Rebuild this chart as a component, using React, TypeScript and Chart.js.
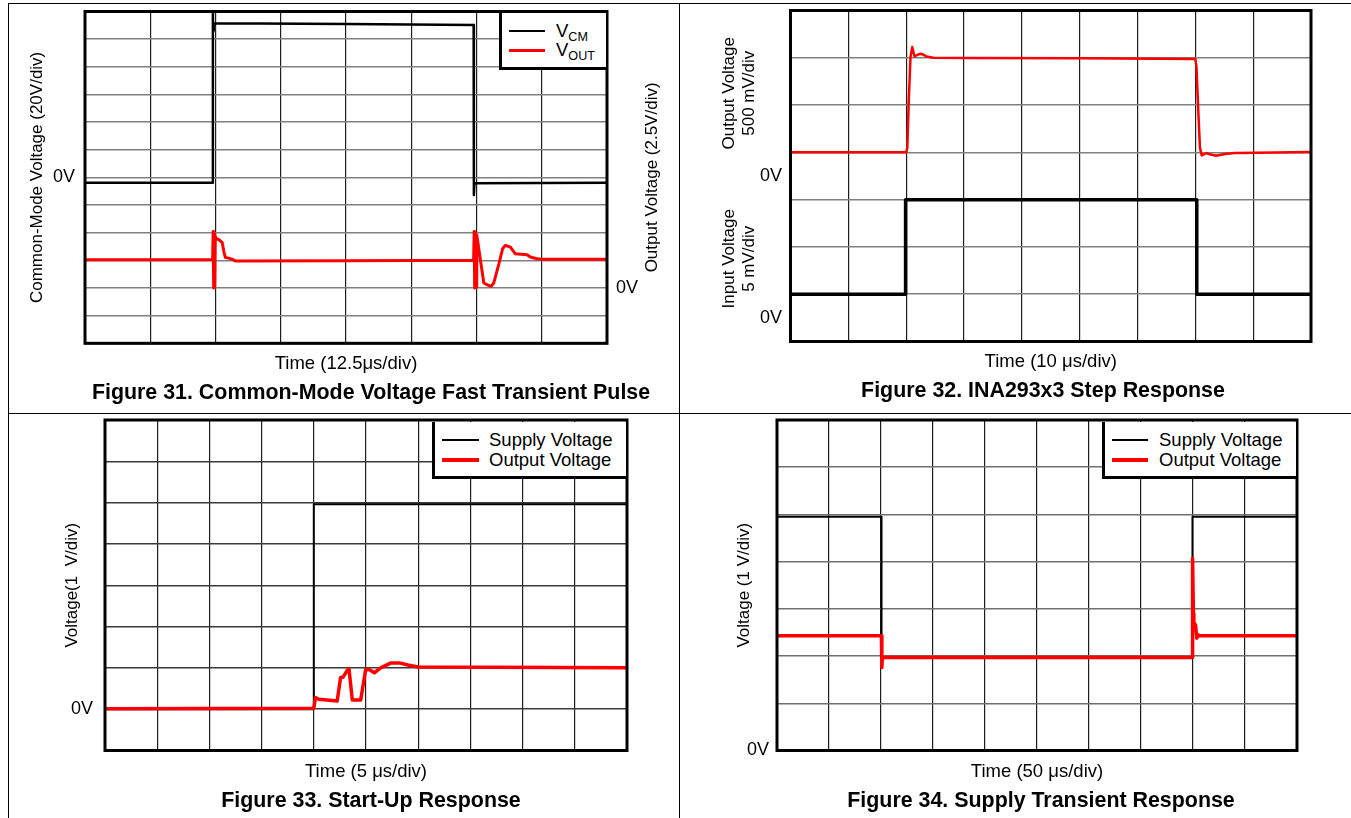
import React, { useEffect, useRef } from 'react';
import { Chart, registerables } from 'chart.js';

Chart.register(...registerables);

const FONT = "'Liberation Sans', Arial, Helvetica, sans-serif";
const RED = '#ff0000';
const HIDDEN = 'rgba(0,0,0,0)';

// ---------------- Figure 31 : Common-mode fast transient ----------------
const fig31VcmTime = [0, 24.45, 24.5, 24.55, 24.65, 50, 74.45, 74.5, 74.6, 74.7, 100];
const fig31VcmVolts = [-3.9, -3.9, 120, 106, 111.5, 111.0, 110.3, -12.8, -4.6, -4.3, -3.9];
const fig31OutTime = [
  0, 24.45, 24.55, 24.65, 24.75, 24.85, 24.95, 25.06, 25.6, 26.3, 26.6, 26.9, 27.5, 28.2, 28.8, 50,
  74.45, 74.55, 74.65, 74.8, 74.95, 75.05, 75.3, 76.4, 77.0, 77.8, 78.3, 79.3, 80.0, 80.5, 81.5, 82.4,
  84.7, 85.3, 86.6, 87.5, 100,
];
const fig31OutVolts = [
  2.55, 2.55, 5.1, 0.0, 4.9, 0.1, 4.6, 4.4, 4.4, 4.1, 3.3, 2.75, 2.7, 2.6, 2.45, 2.47,
  2.5, 5.1, 0.0, 5.0, 0.1, 4.8, 4.0, 0.45, 0.3, 0.15, 0.45, 2.2, 3.55, 3.85, 3.7, 3.1,
  3.0, 2.8, 2.65, 2.6, 2.6,
];

// ---------------- Figure 32 : Step response ----------------
const fig32OutTime = [0, 20.0, 20.2, 20.45, 20.75, 21.05, 21.45, 22.05, 22.65, 23.5, 24.7, 31, 50, 70.0, 70.2, 70.5, 70.8, 71.1, 71.9, 72.5, 73.6, 75.1, 76.9, 80.6, 90];
const fig32OutMilliVolts = [250, 250, 300, 800, 1257, 1363, 1264, 1285, 1292, 1264, 1250, 1247, 1245, 1238, 1150, 700, 300, 218, 243, 229, 215, 232, 243, 247, 253];
const fig32InTime = [0, 19.9, 19.9, 70.25, 70.25, 90];
const fig32InMilliVolts = [2.5, 2.5, 12.5, 12.5, 2.5, 2.5];
const fig32OutTicks = [0, 250, 750, 1250, 1750];
const fig32OutNoGrid = [0];
const fig32InTicks = [-2.5, 0, 2.5, 7.5, 12.5, 15];
const fig32InNoGrid = [0, 15];

// ---------------- Figure 33 : Start-up ----------------
const fig33SupplyTime = [0, 20, 20, 50];
const fig33SupplyVolts = [0, 0, 4.96, 4.96];
const fig33OutTime = [0, 20.0, 20.16, 20.48, 22.24, 22.56, 22.82, 23.2, 23.37, 23.69, 24.49, 24.97, 25.3, 25.8, 26.4, 27.4, 28.2, 29.0, 30.0, 50];
const fig33OutVolts = [0.01, 0.02, 0.28, 0.24, 0.2, 0.76, 0.78, 0.94, 0.98, 0.22, 0.22, 0.96, 0.96, 0.88, 1.0, 1.12, 1.12, 1.07, 1.02, 1.0];

// ---------------- Figure 34 : Supply transient ----------------
const fig34SupplyTime = [0, 100.5, 100.5, 399.5, 399.5, 500];
const fig34SupplyVolts = [4.95, 4.95, 1.97, 1.97, 4.95, 4.95];
const fig34OutTime = [0, 100.4, 100.8, 101.3, 399.3, 399.6, 400.4, 400.8, 402.5, 403.7, 404.9, 407, 500];
const fig34OutVolts = [2.43, 2.43, 1.76, 1.97, 1.97, 4.07, 2.9, 2.72, 2.65, 2.38, 2.45, 2.43, 2.43];

// ---------------- helpers ----------------
const TICK_FONT = { family: FONT, size: 18 };
const Y_TITLE_FONT = { family: FONT, size: 17 };
const X_TITLE_FONT = { family: FONT, size: 18.5 };
const GRID_V = '#1e1e1e';

const pairs = (xs: number[], ys: number[]) => xs.map((x, i) => ({ x, y: ys[i] }));
const zeroLabel = (v: number) => (Math.abs(Number(v)) < 1e-9 ? '0V' : '');

const fixY = (width: number) => (scale: any) => {
  scale.width = width;
  scale.paddingTop = 0;
  scale.paddingBottom = 0;
  scale.paddingLeft = 0;
  scale.paddingRight = 0;
};
const fixX = (height: number) => (scale: any) => {
  scale.height = height;
  scale.paddingTop = 0;
  scale.paddingBottom = 0;
  scale.paddingLeft = 0;
  scale.paddingRight = 0;
};

const framePlugin = {
  id: 'frame',
  afterDraw(chart: any) {
    const { ctx, chartArea: a } = chart;
    ctx.save();
    ctx.strokeStyle = '#000';
    ctx.lineWidth = 3;
    ctx.strokeRect(a.left, a.top, a.right - a.left, a.bottom - a.top);
    ctx.restore();
  },
};

const sideTitlePlugin = {
  id: 'sideTitle',
  afterDraw(chart: any, _args: any, opts: any) {
    const scale = chart.scales[opts.scaleId];
    if (!scale) return;
    const { ctx, chartArea } = chart;
    ctx.save();
    ctx.font = `${opts.size}px ${FONT}`;
    ctx.fillStyle = '#000';
    ctx.textAlign = 'center';
    ctx.textBaseline = 'middle';
    ctx.translate(scale.right - (opts.size * 1.2) / 2, (chartArea.top + chartArea.bottom) / 2);
    ctx.rotate(-Math.PI / 2);
    ctx.fillText(opts.text, 0, 0);
    ctx.restore();
  },
};

const line = (label: string, data: any[], color: string, width: number, yAxisID = 'y') => ({
  label,
  data,
  borderColor: color,
  backgroundColor: color,
  borderWidth: width,
  yAxisID,
  pointRadius: 0,
  fill: false,
});

const xAxis = (max: number, step: number, title: string, height: number) => ({
  type: 'linear',
  position: 'bottom',
  min: 0,
  max,
  ticks: { stepSize: step, display: false },
  grid: { color: GRID_V, lineWidth: 1.2, drawTicks: false },
  border: { display: false },
  title: { display: true, text: title, font: X_TITLE_FONT, color: '#000', padding: 0 },
  afterFit: fixX(height),
});

const baseOptions = (padding: any, scales: any, plugins: any = {}) => ({
  responsive: false,
  maintainAspectRatio: false,
  animation: false,
  events: [],
  layout: { padding },
  elements: { point: { radius: 0 }, line: { tension: 0, borderJoinStyle: 'round' } },
  plugins: { legend: { display: false }, tooltip: { enabled: false }, title: { display: false }, ...plugins },
  scales,
});

// ---------------- chart configs ----------------
function fig31Config(): any {
  return {
    type: 'line',
    data: {
      datasets: [
        line('VOUT', pairs(fig31OutTime, fig31OutVolts), RED, 3, 'y1'),
        line('VCM', pairs(fig31VcmTime, fig31VcmVolts), '#000', 2.5, 'y'),
      ],
    },
    options: baseOptions(
      { left: 17.8, right: 16.3, top: 7.5, bottom: 37.9 },
      {
        x: xAxis(100, 12.5, 'Time (12.5μs/div)', 31.8),
        y: {
          type: 'linear',
          position: 'left',
          min: -120,
          max: 120,
          ticks: { stepSize: 20, autoSkip: false, padding: 10, font: TICK_FONT, color: '#000', callback: zeroLabel },
          grid: { color: '#808080', lineWidth: 1.6, drawTicks: false },
          border: { display: false },
          title: { display: true, text: 'Common-Mode Voltage (20V/div)', font: Y_TITLE_FONT, color: '#000', padding: 0 },
          afterFit: fixY(58.2),
        },
        y1: {
          type: 'linear',
          position: 'right',
          min: -5,
          max: 25,
          ticks: { stepSize: 2.5, autoSkip: false, padding: 9, font: TICK_FONT, color: '#000', callback: zeroLabel },
          grid: { display: false, drawTicks: false },
          border: { display: false },
          title: { display: false },
          afterFit: fixY(55.7),
        },
      },
      { sideTitle: { scaleId: 'y1', text: 'Output Voltage (2.5V/div)', size: 17 } }
    ),
    plugins: [framePlugin, sideTitlePlugin],
  };
}

function fig32Config(): any {
  return {
    type: 'line',
    data: {
      datasets: [
        line('Output Voltage', pairs(fig32OutTime, fig32OutMilliVolts), RED, 2.5, 'yOut'),
        line('Input Voltage', pairs(fig32InTime, fig32InMilliVolts), '#000', 3.5, 'yIn'),
      ],
    },
    options: baseOptions(
      { left: 38.8, right: 40, top: 6.5, bottom: 39.9 },
      {
        x: xAxis(90, 10, 'Time (10 μs/div)', 31.6),
        yOut: {
          type: 'linear',
          position: 'left',
          stack: 'fig32',
          stackWeight: 1,
          weight: 1,
          min: 0,
          max: 1750,
          afterBuildTicks: (scale: any) => {
            scale.ticks = fig32OutTicks.map((value) => ({ value }));
          },
          ticks: { autoSkip: false, padding: 8.5, font: TICK_FONT, color: '#000', callback: zeroLabel },
          grid: {
            color: (c: any) => (c.tick && fig32OutNoGrid.includes(c.tick.value) ? HIDDEN : '#808080'),
            lineWidth: 1.6,
            drawTicks: false,
          },
          border: { display: false },
          title: { display: true, text: ['Output Voltage', '500 mV/div'], font: Y_TITLE_FONT, color: '#000', padding: 0 },
          afterFit: fixY(71.7),
        },
        yIn: {
          type: 'linear',
          position: 'left',
          stack: 'fig32',
          stackWeight: 1,
          weight: 0,
          min: -2.5,
          max: 15,
          afterBuildTicks: (scale: any) => {
            scale.ticks = fig32InTicks.map((value) => ({ value }));
          },
          ticks: { autoSkip: false, padding: 8.5, font: TICK_FONT, color: '#000', callback: zeroLabel },
          grid: {
            color: (c: any) => (c.tick && fig32InNoGrid.includes(c.tick.value) ? HIDDEN : '#808080'),
            lineWidth: 1.6,
            drawTicks: false,
          },
          border: { display: false },
          title: { display: true, text: ['Input Voltage', '5 mV/div'], font: Y_TITLE_FONT, color: '#000', padding: 0 },
          afterFit: fixY(71.7),
        },
      }
    ),
    plugins: [framePlugin],
  };
}

function simpleConfig(
  outT: number[],
  outV: number[],
  supT: number[],
  supV: number[],
  padding: any,
  xMax: number,
  xStep: number,
  xTitle: string,
  xHeight: number,
  yMin: number,
  yMax: number,
  yTitle: string,
  yWidth: number,
  tickPad: number,
  gridH: string
): any {
  return {
    type: 'line',
    data: {
      datasets: [
        line('Output Voltage', pairs(outT, outV), RED, 3.5, 'y'),
        line('Supply Voltage', pairs(supT, supV), '#000', 2, 'y'),
      ],
    },
    options: baseOptions(padding, {
      x: xAxis(xMax, xStep, xTitle, xHeight),
      y: {
        type: 'linear',
        position: 'left',
        min: yMin,
        max: yMax,
        ticks: { stepSize: 1, autoSkip: false, padding: tickPad, font: TICK_FONT, color: '#000', callback: zeroLabel },
        grid: { color: gridH, lineWidth: 1.5, drawTicks: false },
        border: { display: false },
        title: { display: true, text: yTitle, font: Y_TITLE_FONT, color: '#000', padding: 0 },
        afterFit: fixY(yWidth),
      },
    }),
    plugins: [framePlugin],
  };
}

const fig33Config = () =>
  simpleConfig(
    fig33OutTime, fig33OutVolts, fig33SupplyTime, fig33SupplyVolts,
    { left: 52.8, right: 52, top: 6, bottom: 34.9 },
    50, 5, 'Time (5 μs/div)', 32.6,
    -1, 7, 'Voltage(1  V/div)', 43.2, 12, '#3a3a3a'
  );

const fig34Config = () =>
  simpleConfig(
    fig34OutTime, fig34OutVolts, fig34SupplyTime, fig34SupplyVolts,
    { left: 53.8, right: 54, top: 6, bottom: 34.9 },
    500, 50, 'Time (50 μs/div)', 32.6,
    0, 7, 'Voltage (1 V/div)', 43.2, 8, '#707070'
  );

// ---------------- React parts ----------------
function ChartBox({ left, top, width, height, build }: any) {
  const ref = useRef<HTMLCanvasElement>(null);
  useEffect(() => {
    const chart = new Chart(ref.current as HTMLCanvasElement, build());
    return () => chart.destroy();
  }, []);
  return (
    <canvas
      ref={ref}
      width={width}
      height={height}
      style={{ position: 'absolute', left, top, width, height, display: 'block' }}
    />
  );
}

function Legend({ left, top, width, height, lineLeft, lineWidth, textLeft, rows }: any) {
  return (
    <div
      style={{
        position: 'absolute',
        left,
        top,
        width,
        height,
        boxSizing: 'border-box',
        background: '#fff',
        borderLeft: '3px solid #000',
        borderBottom: '3px solid #000',
      }}
    >
      {rows.map((r: any, i: number) => (
        <React.Fragment key={i}>
          <div
            style={{
              position: 'absolute',
              left: lineLeft,
              top: r.y - r.thickness / 2,
              width: lineWidth,
              height: r.thickness,
              background: r.color,
            }}
          />
          <div
            style={{
              position: 'absolute',
              left: textLeft,
              top: r.y,
              transform: 'translateY(-50%)',
              font: `18.5px ${FONT}`,
              lineHeight: 1,
              whiteSpace: 'nowrap',
              color: '#000',
            }}
          >
            {r.label}
          </div>
        </React.Fragment>
      ))}
    </div>
  );
}

const Sub = ({ children }: any) => (
  <span style={{ fontSize: '0.68em', position: 'relative', top: '0.32em' }}>{children}</span>
);

function Caption({ cx, cy, text }: any) {
  return (
    <div
      style={{
        position: 'absolute',
        left: cx,
        top: cy,
        transform: 'translate(-50%, -50%)',
        font: `bold 21.4px ${FONT}`,
        lineHeight: 1,
        whiteSpace: 'nowrap',
        color: '#000',
      }}
    >
      {text}
    </div>
  );
}

const Rule = ({ left, top, width, height }: any) => (
  <div style={{ position: 'absolute', left, top, width, height, background: '#000' }} />
);

export default function App() {
  return (
    <div
      style={{
        position: 'absolute',
        left: 0,
        top: 0,
        width: 1351,
        height: 818,
        overflow: 'hidden',
        background: '#fff',
        fontFamily: FONT,
      }}
    >
      <ChartBox left={9} top={4} width={670} height={409} build={fig31Config} />
      <ChartBox left={680} top={4} width={671} height={409} build={fig32Config} />
      <ChartBox left={9} top={414} width={670} height={404} build={fig33Config} />
      <ChartBox left={680} top={414} width={671} height={404} build={fig34Config} />

      <Legend
        left={499}
        top={13}
        width={106.5}
        height={57}
        lineLeft={7}
        lineWidth={36}
        textLeft={54}
        rows={[
          { y: 18, thickness: 2.5, color: '#000', label: <span>V<Sub>CM</Sub></span> },
          { y: 37, thickness: 3, color: RED, label: <span>V<Sub>OUT</Sub></span> },
        ]}
      />
      <Legend
        left={432}
        top={421.5}
        width={193.5}
        height={57.5}
        lineLeft={7}
        lineWidth={37}
        textLeft={54}
        rows={[
          { y: 18.5, thickness: 2, color: '#000', label: 'Supply Voltage' },
          { y: 38.5, thickness: 3.5, color: RED, label: 'Output Voltage' },
        ]}
      />
      <Legend
        left={1102}
        top={421.5}
        width={193.5}
        height={57.5}
        lineLeft={7}
        lineWidth={36}
        textLeft={54}
        rows={[
          { y: 18.5, thickness: 2, color: '#000', label: 'Supply Voltage' },
          { y: 38.5, thickness: 3.5, color: RED, label: 'Output Voltage' },
        ]}
      />

      <Caption cx={371} cy={392.5} text="Figure 31. Common-Mode Voltage Fast Transient Pulse" />
      <Caption cx={1043} cy={391} text="Figure 32. INA293x3 Step Response" />
      <Caption cx={371} cy={801} text="Figure 33. Start-Up Response" />
      <Caption cx={1041} cy={801} text="Figure 34. Supply Transient Response" />

      <Rule left={8} top={3} width={1343} height={1} />
      <Rule left={8} top={3} width={1} height={815} />
      <Rule left={679} top={3} width={1} height={815} />
      <Rule left={8} top={413} width={1343} height={1} />
    </div>
  );
}
